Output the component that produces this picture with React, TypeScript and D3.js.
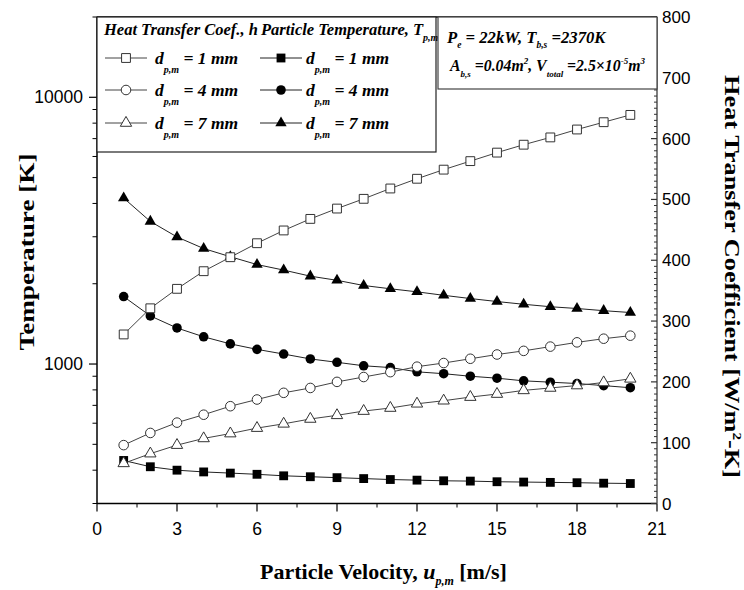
import React from "react";
import * as d3 from "d3";

const velocity = [1, 2, 3, 4, 5, 6, 7, 8, 9, 10, 11, 12, 13, 14, 15, 16, 17, 18, 19, 20];
const temp1mm = [435, 412, 400, 394, 390, 386, 381, 378, 375, 372, 369, 367, 365, 364, 362, 361, 360, 359, 357.5, 356.5];
const temp4mm = [1790, 1515, 1365, 1265, 1190, 1135, 1090, 1045, 1015, 985, 970, 935, 920, 900, 885, 865, 855, 845, 830, 815];
const temp7mm = [4190, 3425, 2995, 2710, 2525, 2360, 2250, 2135, 2060, 1970, 1915, 1865, 1810, 1760, 1715, 1675, 1640, 1615, 1585, 1560];
const h1mm = [278, 321, 353, 382, 405, 428, 449, 468, 485, 501, 518, 534, 549, 563, 577, 590, 602, 615, 627, 639];
const h4mm = [96, 116, 133, 146, 160, 171, 182, 190, 200, 208, 216, 225, 231, 238, 245, 251, 258, 265, 271, 276];
const h7mm = [66, 82, 96, 107, 115, 124, 131, 139, 145, 152, 157, 164, 169, 175, 180, 186, 190, 194, 199, 205];

const xTicks = [0, 3, 6, 9, 12, 15, 18, 21];
const leftTickLabels = [1000, 10000];
const rightTicks = [0, 100, 200, 300, 400, 500, 600, 700, 800];
const diameters = ["1", "4", "7"];

const L = 97, R = 657, T = 17, B = 503.5;
const SANS = "'Liberation Sans', Arial, sans-serif";
const SERIF = "'Liberation Serif', 'Times New Roman', serif";

export default function App() {
  const x = d3.scaleLinear().domain([0, 21]).range([L, R]);
  const yT = d3.scaleLog().domain([300, 20000]).range([B, T]);
  const yH = d3.scaleLinear().domain([0, 800]).range([B, T]);

  const sq = d3.symbol().type(d3.symbolSquare).size(78)();
  const ci = d3.symbol().type(d3.symbolCircle).size(72)();
  const tr = d3.symbol().type(d3.symbolTriangle).size(56)();
  const shapes = [sq, ci, tr];

  const tSeries = [temp1mm, temp4mm, temp7mm];
  const hSeries = [h1mm, h4mm, h7mm];

  const lineT = d3.line<number>().x((_, i) => x(velocity[i])).y((d) => yT(d));
  const lineH = d3.line<number>().x((_, i) => x(velocity[i])).y((d) => yH(d));

  const minorX = d3.range(1.5, 21, 3);
  const minorLog: number[] = [];
  [100, 1000, 10000].forEach((dec) => {
    for (let k = 2; k <= 9; k++) {
      const v = dec * k;
      if (v >= 300 && v <= 20000 && v !== 1000 && v !== 10000) minorLog.push(v);
    }
  });
  const minorRight = d3.range(0, 801, 10).filter((v) => v % 100 !== 0);

  const legRows = [58, 90, 123];

  return (
    <svg width={744} height={590} style={{ display: "block", position: "absolute", left: 0, top: 0 }}>
      <rect x={0} y={0} width={744} height={590} fill="#fff" />

      {/* temperature series (filled) */}
      {tSeries.map((s, si) => (
        <g key={"t" + si}>
          <path d={lineT(s) || ""} fill="none" stroke="#222" strokeWidth={1} />
          {s.map((v, i) => (
            <path key={i} d={shapes[si]} transform={`translate(${x(velocity[i])},${yT(v)})`} fill="#000" />
          ))}
        </g>
      ))}
      {/* heat transfer series (open) */}
      {hSeries.map((s, si) => (
        <g key={"h" + si}>
          <path d={lineH(s) || ""} fill="none" stroke="#444" strokeWidth={1} />
          {s.map((v, i) => (
            <path key={i} d={shapes[si]} transform={`translate(${x(velocity[i])},${yH(v)})`} fill="#fff" stroke="#333" strokeWidth={1} />
          ))}
        </g>
      ))}

      {/* frame */}
      <line x1={L} y1={T} x2={R} y2={T} stroke="#000" strokeWidth={1.5} />
      <line x1={L} y1={T} x2={L} y2={B} stroke="#000" strokeWidth={1.5} />
      <line x1={L} y1={B} x2={R} y2={B} stroke="#000" strokeWidth={1.5} />
      <line x1={R} y1={T} x2={R} y2={B} stroke="#555" strokeWidth={1.5} />

      {/* bottom axis */}
      {xTicks.map((t) => (
        <g key={"xt" + t}>
          <line x1={x(t)} x2={x(t)} y1={B} y2={B + 8} stroke="#000" strokeWidth={1.2} />
          <text x={x(t)} y={535} textAnchor="middle" fontFamily={SANS} fontSize={17.5}>{t}</text>
        </g>
      ))}
      {minorX.map((t) => (
        <line key={"xm" + t} x1={x(t)} x2={x(t)} y1={B} y2={B + 4} stroke="#000" strokeWidth={1} />
      ))}

      {/* left axis */}
      {leftTickLabels.map((t) => (
        <g key={"yl" + t}>
          <line x1={L - 8} x2={L} y1={yT(t)} y2={yT(t)} stroke="#000" strokeWidth={1.2} />
          <text x={83} y={yT(t) + 6} textAnchor="end" fontFamily={SANS} fontSize={17.5}>{t}</text>
        </g>
      ))}
      {minorLog.map((t) => (
        <line key={"ylm" + t} x1={L - 4.5} x2={L} y1={yT(t)} y2={yT(t)} stroke="#000" strokeWidth={1} />
      ))}

      {/* right axis */}
      {rightTicks.map((t) => (
        <g key={"yr" + t}>
          <line x1={R - 6} x2={R} y1={yH(t)} y2={yH(t)} stroke="#333" strokeWidth={1.2} />
          <text x={662} y={yH(t) + 6} textAnchor="start" fontFamily={SANS} fontSize={17}>{t}</text>
        </g>
      ))}
      {minorRight.map((t) => (
        <line key={"yrm" + t} x1={R - 3} x2={R} y1={yH(t)} y2={yH(t)} stroke="#333" strokeWidth={1} />
      ))}

      {/* axis titles */}
      <text transform="translate(34,252) rotate(-90)" textAnchor="middle" fontFamily={SERIF} fontWeight="bold" fontSize={22} textLength={197} lengthAdjust="spacingAndGlyphs">Temperature [K]</text>
      <text transform="translate(725,276.5) rotate(90)" textAnchor="middle" fontFamily={SERIF} fontWeight="bold" fontSize={21} textLength={403} lengthAdjust="spacingAndGlyphs">
        Heat Transfer Coefficient [W/m<tspan dy={-8} fontSize={12}>2</tspan><tspan dy={8}>-K]</tspan>
      </text>
      <text x={383.5} y={579} textAnchor="middle" fontFamily={SERIF} fontWeight="bold" fontSize={22}>
        Particle Velocity, <tspan fontStyle="italic">u</tspan><tspan dy={6} fontSize={12} fontStyle="italic">p,m</tspan><tspan dy={-6}> [m/s]</tspan>
      </text>

      {/* legend box */}
      <rect x={L} y={T} width={339} height={135} fill="#fff" stroke="#222" strokeWidth={1.2} />
      <g fontFamily={SERIF} fontWeight="bold" fontStyle="italic">
        <text x={104} y={35} fontSize={16.5}>Heat Transfer Coef., h</text>
        <text x={261} y={35} fontSize={16.5}>Particle Temperature, T<tspan dy={6} fontSize={10}>p,m</tspan></text>
        {diameters.map((d, i) => (
          <g key={"lg" + i}>
            <line x1={105} x2={147} y1={legRows[i]} y2={legRows[i]} stroke="#444" strokeWidth={1} />
            <path d={shapes[i]} transform={`translate(126,${legRows[i]})`} fill="#fff" stroke="#333" strokeWidth={1} />
            <text x={155} y={legRows[i] + 6} fontSize={17.5}>
              d<tspan dy={9} fontSize={10}>p,m</tspan><tspan dy={-9}> = {d} mm</tspan>
            </text>
            <line x1={260} x2={302} y1={legRows[i]} y2={legRows[i]} stroke="#222" strokeWidth={1} />
            <path d={shapes[i]} transform={`translate(281,${legRows[i]})`} fill="#000" />
            <text x={306} y={legRows[i] + 6} fontSize={17.5}>
              d<tspan dy={9} fontSize={10}>p,m</tspan><tspan dy={-9}> = {d} mm</tspan>
            </text>
          </g>
        ))}
      </g>

      {/* annotation box */}
      <rect x={438} y={T} width={R - 438} height={72} fill="#fff" stroke="#444" strokeWidth={1.2} />
      <g fontFamily={SERIF} fontWeight="bold" fontStyle="italic">
        <text x={447} y={43} fontSize={16.7}>
          P<tspan dy={5} fontSize={9.5}>e</tspan><tspan dy={-5}> = 22kW, T</tspan><tspan dy={5} fontSize={9.5}>b,s</tspan><tspan dy={-5}> =2370K</tspan>
        </text>
        <text x={450} y={71} fontSize={15.8}>
          A<tspan dy={6} fontSize={9}>b,s</tspan><tspan dy={-6}> =0.04m</tspan><tspan dy={-7} fontSize={9}>2</tspan><tspan dy={7}>, V</tspan><tspan dy={6} fontSize={9}>total</tspan><tspan dy={-6}> =2.5×10</tspan><tspan dy={-7} fontSize={9}>-5</tspan><tspan dy={7}>m</tspan><tspan dy={-7} fontSize={9}>3</tspan>
        </text>
      </g>
    </svg>
  );
}
